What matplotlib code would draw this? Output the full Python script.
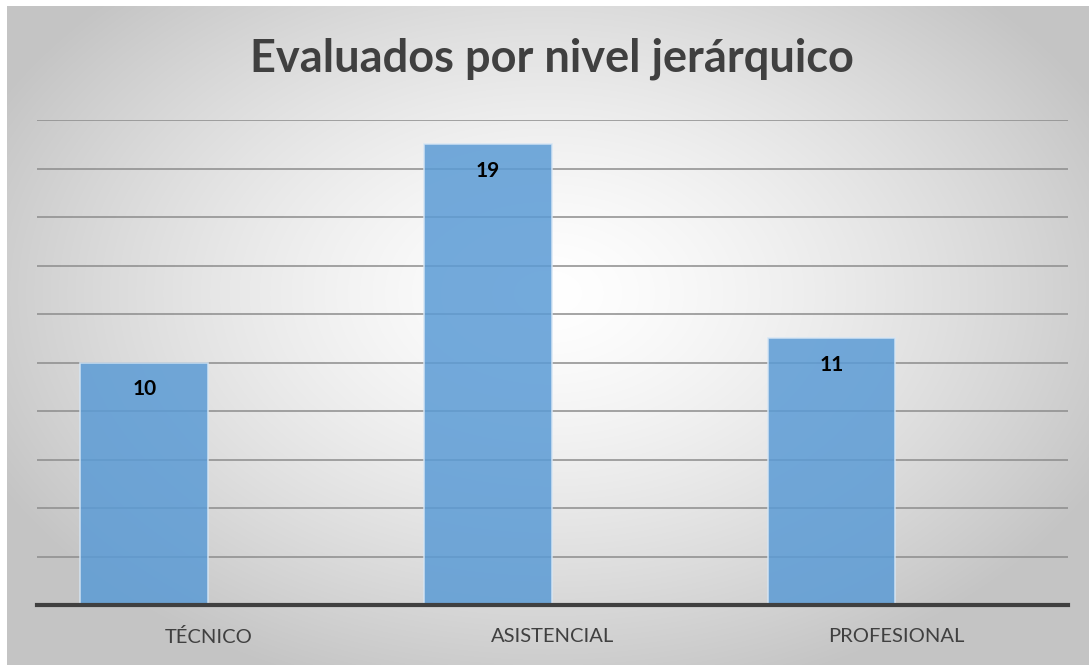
#!/usr/bin/env python3
"""Evaluados por nivel jerarquico - bar chart."""
import matplotlib.pyplot as plt
import numpy as np

categories = ['TÉCNICO', 'ASISTENCIAL', 'PROFESIONAL']
values = [10, 19, 11]

plt.rcParams['font.family'] = ['Lato', 'DejaVu Sans']

fig = plt.figure(figsize=(10.89, 6.65), dpi=100)

# radial gradient background, like the Excel chart area
bg = fig.add_axes([0.0064, 0, 0.9936, 0.991])
h, w = 665, 1082
yy, xx = np.mgrid[0:h, 0:w]
r = np.sqrt(((xx - 540) / 620.0) ** 2 + ((yy - 290) / 420.0) ** 2)
r = np.clip(r, 0, 1)
shade = 1.0 - 0.23 * r ** 1.4
bg.imshow(np.dstack([shade] * 3), aspect='auto', extent=[0, 1, 0, 1])
bg.set_axis_off()

ax = fig.add_axes([0.034, 0.0902, 0.9467, 0.7293])
ax.patch.set_alpha(0)
x = np.arange(len(categories))
shift = 0.188  # bars sit left of the category centre, as in the original
bars = ax.bar(x - shift, values, width=0.372, color='#5b9bd5', alpha=0.85,
              edgecolor='#d6e6f5', linewidth=1.2, zorder=3)
ax.set_xlim(-0.5, len(categories) - 0.5)
ax.set_ylim(0, 20)
ax.set_yticks(np.arange(0, 21, 2))
ax.yaxis.grid(True, color='#8c8c8c', linewidth=1.1, zorder=4)
ax.set_axisbelow(False)
ax.tick_params(axis='y', left=False, labelleft=False)
ax.tick_params(axis='x', bottom=False, labelsize=14.5, labelcolor='#404040', pad=13)
ax.set_xticks(x)
ax.set_xticklabels(categories)
for side in ['top', 'right', 'left']:
    ax.spines[side].set_visible(False)
ax.spines['bottom'].set_color('#404040')
ax.spines['bottom'].set_linewidth(3)
ax.spines['bottom'].set_zorder(6)

for bar, val in zip(bars, values):
    ax.text(bar.get_x() + bar.get_width() / 2, val - 1.1, f'{val}',
            ha='center', va='center', fontsize=15, fontweight='bold',
            color='black', zorder=7)

fig.text(0.507, 0.912, 'Evaluados por nivel jerárquico', ha='center', va='center',
         fontsize=32.5, fontweight='bold', color='#404040')

plt.savefig('out.png', dpi=100)
